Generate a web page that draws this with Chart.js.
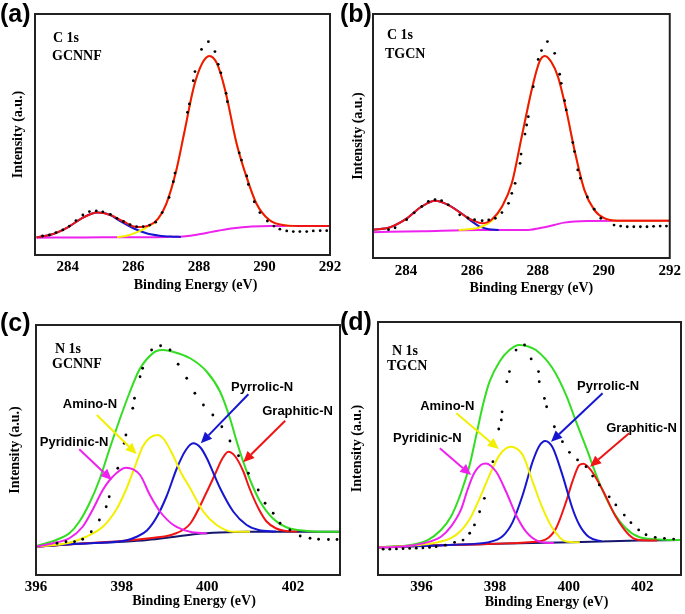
<!DOCTYPE html>
<html>
<head>
<meta charset="utf-8">
<title>XPS C 1s / N 1s</title>
<script src="https://cdn.jsdelivr.net/npm/chart.js@4.4.0/dist/chart.umd.min.js"></script>
<style>
  body { margin: 0; background: #fff; }
  #wrap { position: relative; width: 685px; height: 614px; overflow: hidden; }
  canvas { position: absolute; }
</style>
</head>
<body>
<div id="wrap">
  <canvas id="ca" style="left:0;top:0" width="345" height="300"></canvas>
  <canvas id="cb" style="left:340px;top:0" width="345" height="300"></canvas>
  <canvas id="cc" style="left:0;top:300px" width="345" height="314"></canvas>
  <canvas id="cd" style="left:340px;top:300px" width="345" height="314"></canvas>
</div>
<script>
// ---- tick labels ----
var cTicks = [284, 286, 288, 290, 292];
var nTicks = [396, 398, 400, 402];

// ---- (a) C 1s GCNNF ----
var aBgE = [283.05, 284.5, 286, 287, 287.6, 288.0, 288.4, 288.8, 289.2, 289.6, 290.2, 291, 292];
var aBgI = [7.2, 7.3, 7.4, 7.5, 7.8, 8.6, 9.6, 10.6, 11.3, 11.8, 12.0, 12.0, 12.0];
var aC1E = [283.05, 283.5, 284.0, 284.4, 284.9, 285.3, 285.6, 286.0, 286.4, 286.8, 287.2, 287.45];
var aC1I = [7.4, 8.5, 11.5, 15.0, 17.6, 16.6, 14.0, 11.1, 9.0, 8.0, 7.6, 7.5];
var aC2E = [285.5, 285.8, 286.1, 286.4, 286.75, 287.0, 287.3, 287.55, 287.85, 288.1, 288.32, 288.55, 288.8, 289.15, 289.45, 289.75, 290.15, 290.6, 291.2, 292];
var aC2I = [7.4, 8.0, 9.4, 11.4, 14.8, 21.0, 34.5, 50.5, 70.0, 79.5, 82.6, 79.5, 68.5, 46.3, 32.5, 21.5, 14.5, 12.4, 12.0, 12.0];
var aFitE = [283.05, 283.5, 284.0, 284.4, 284.9, 285.3, 285.7, 286.1, 286.5, 286.75, 287.0, 287.3, 287.55, 287.85, 288.1, 288.32, 288.55, 288.8, 289.15, 289.45, 289.75, 290.15, 290.6, 291.2, 292];
var aFitI = [7.4, 8.5, 11.5, 15.0, 17.6, 16.6, 13.9, 11.6, 12.4, 15.0, 21.0, 34.5, 50.5, 70.0, 79.5, 82.6, 79.5, 68.5, 46.3, 32.5, 21.5, 14.5, 12.4, 12.0, 12.0];
var aDotE = [283.23, 283.44, 283.64, 283.85, 284.05, 284.25, 284.46, 284.66, 284.87, 285.07, 285.3, 285.5, 285.7, 285.9, 286.1, 286.3, 286.5, 286.68, 286.88, 287.09, 287.22, 287.27, 287.65, 287.71, 287.83, 287.88, 288.08, 288.29, 288.49, 288.59, 288.67, 288.83, 288.87, 289.23, 289.3, 289.46, 289.51, 289.69, 289.86, 290.09, 290.29, 290.47, 290.68, 290.88, 291.08, 291.29, 291.49, 291.7, 291.9];
var aDotI = [7.9, 8.3, 9.3, 10.4, 12.0, 14.3, 16.6, 18.0, 18.3, 17.9, 16.8, 15.2, 13.9, 12.6, 11.8, 11.8, 12.4, 13.6, 17.6, 23.9, 30.4, 34.0, 59.2, 62.7, 72.3, 76.1, 85.3, 88.5, 84.4, 79.1, 75.6, 67.1, 63.6, 42.4, 39.4, 32.8, 29.3, 22.1, 17.6, 14.1, 12.0, 10.7, 10.0, 9.7, 9.7, 9.7, 10.0, 10.1, 10.1];

// ---- (b) C 1s TGCN ----
var bBgE = [283.0, 284.5, 286.2, 287.7, 288.2, 288.8, 289.5, 290.5, 292];
var bBgI = [10.6, 11.0, 11.5, 11.5, 12.6, 14.5, 15.2, 15.3, 15.3];
var bC1E = [283.0, 283.5, 283.97, 284.48, 284.88, 285.28, 285.78, 286.0, 286.21, 286.51, 286.81];
var bC1I = [11.6, 12.5, 15.7, 21.1, 23.5, 21.8, 17.3, 15.0, 13.1, 11.8, 11.5];
var bC2E = [285.6, 285.9, 286.18, 286.48, 286.68, 286.91, 287.21, 287.51, 287.86, 288.05, 288.21, 288.4, 288.61, 288.86, 289.11, 289.41, 289.71, 290.01, 290.41, 291, 292];
var bC2I = [11.5, 11.8, 12.3, 14.1, 16.2, 21.0, 30.6, 49.7, 71.6, 80.5, 82.8, 80.5, 74.3, 60.7, 44.3, 27.9, 19.7, 16.3, 15.3, 15.3, 15.3];
var bFitE = [283.0, 283.5, 283.97, 284.48, 284.88, 285.28, 285.78, 286.05, 286.31, 286.61, 286.91, 287.21, 287.51, 287.86, 288.05, 288.21, 288.4, 288.61, 288.86, 289.11, 289.41, 289.71, 290.01, 290.41, 291, 292];
var bFitI = [11.6, 12.5, 15.7, 21.1, 23.5, 21.8, 17.3, 15.3, 14.2, 15.9, 21.0, 30.6, 49.7, 71.6, 80.5, 82.8, 80.5, 74.3, 60.7, 44.3, 27.9, 19.7, 16.3, 15.3, 15.3, 15.3];
var bDotE = [283.47, 283.67, 284.02, 284.25, 284.48, 284.68, 284.88, 285.08, 285.28, 285.63, 285.88, 286.08, 286.31, 286.51, 286.71, 286.91, 287.11, 287.21, 287.31, 287.46, 287.49, 287.61, 287.66, 287.71, 287.86, 288.01, 288.11, 288.29, 288.51, 288.66, 288.71, 288.81, 288.86, 289.06, 289.11, 289.21, 289.29, 289.5, 289.71, 289.91, 290.31, 290.51, 290.71, 290.91, 291.11, 291.31, 291.51, 291.71, 291.9];
var bDotI = [11.6, 12.4, 15.7, 18.5, 21.1, 23.2, 23.9, 23.5, 21.8, 17.7, 16.4, 15.7, 15.3, 15.6, 16.3, 18.6, 22.4, 26.5, 30.6, 38.8, 42.6, 50.8, 54.5, 57.9, 70.2, 81.4, 85.0, 88.7, 83.9, 75.3, 71.6, 64.5, 60.7, 47.3, 43.6, 36.1, 32.7, 25.0, 20.0, 16.3, 13.5, 13.1, 12.8, 12.8, 12.8, 12.8, 13.0, 13.1, 13.1];

// ---- (c) N 1s GCNNF ----
var cBgE = [396.0, 397.0, 398.0, 398.6, 399.2, 399.75, 400.3, 400.9, 403.1];
var cBgI = [11.3, 12.5, 13.3, 14.0, 15.2, 16.4, 17.0, 17.3, 17.3];
var cSumE = [396.0, 396.47, 396.78, 397.01, 397.25, 397.48, 397.71, 397.95, 398.18, 398.41, 398.57, 398.8, 398.97, 399.2, 399.6, 399.99, 400.3, 400.53, 400.69, 400.84, 401.0, 401.23, 401.54, 401.86, 402.33, 402.64, 403.1];
var cSumI = [11.5, 14.0, 16.7, 21.3, 28.7, 38.0, 50.0, 62.0, 72.7, 82.0, 86.0, 89.5, 90.0, 89.3, 86.7, 81.3, 73.3, 62.7, 53.3, 45.3, 38.0, 29.5, 22.5, 19.0, 17.6, 17.3, 17.3];
var cPyrdE = [396.0, 396.39, 396.78, 397.09, 397.32, 397.56, 397.79, 398.1, 398.43, 398.66, 398.9, 399.21, 399.6, 399.99];
var cPyrdI = [11.3, 12.7, 14.7, 19.3, 26.0, 34.0, 39.3, 42.9, 40.0, 32.0, 25.3, 20.0, 17.3, 16.6];
var cAmE = [396.0, 396.78, 397.17, 397.56, 397.87, 398.1, 398.34, 398.49, 398.65, 398.84, 399.0, 399.21, 399.4, 399.6, 399.91, 400.22, 400.61, 401.0];
var cAmI = [11.3, 12.9, 15.3, 19.3, 26.0, 34.0, 44.7, 51.3, 54.8, 56.0, 54.0, 47.5, 40.5, 34.7, 25.3, 20.0, 17.3, 17.3];
var cPyrlE = [396.0, 397.0, 397.6, 398.1, 398.35, 398.59, 398.82, 399.05, 399.29, 399.5, 399.67, 399.85, 399.99, 400.15, 400.3, 400.61, 400.92, 401.2, 401.6];
var cPyrlI = [11.3, 12.5, 13.0, 13.8, 15.3, 17.8, 23.2, 31.5, 42.7, 50.0, 52.7, 50.8, 46.7, 40.5, 34.7, 25.3, 20.0, 18.0, 17.4];
var cGrE = [396.0, 397.0, 398.0, 398.8, 399.21, 399.6, 399.99, 400.2, 400.35, 400.49, 400.65, 400.84, 400.99, 401.2, 401.38, 401.6, 401.8, 402.1];
var cGrI = [11.3, 12.5, 13.6, 15.0, 16.3, 20.5, 33.3, 41.0, 46.5, 49.3, 47.5, 41.5, 34.5, 26.5, 21.5, 18.7, 17.7, 17.3];
var cDotE = [396.49, 396.7, 396.9, 397.09, 397.29, 397.48, 397.64, 397.71, 397.91, 398.06, 398.1, 398.26, 398.3, 398.43, 398.49, 398.7, 398.91, 399.13, 399.32, 399.52, 399.71, 399.91, 400.13, 400.34, 400.53, 400.73, 400.96, 401.19, 401.35, 401.54, 401.7, 401.93, 402.17, 402.4, 402.6, 402.83, 403.03];
var cDotI = [12.7, 13.3, 13.3, 14.3, 17.3, 22.0, 27.3, 31.3, 42.7, 52.7, 56.0, 66.7, 70.7, 79.3, 82.7, 90.0, 91.7, 90.0, 84.3, 78.7, 72.7, 68.0, 64.0, 59.3, 53.6, 47.7, 40.7, 34.0, 28.7, 24.7, 20.7, 18.0, 15.6, 14.7, 14.3, 14.2, 14.2];

// ---- (d) N 1s TGCN ----
var dBgE = [394.82, 396.5, 399.0, 401.9, 403.05];
var dBgI = [11.0, 11.8, 12.6, 13.6, 13.8];
var dSumE = [394.82, 395.72, 396.17, 396.53, 396.8, 397.07, 397.31, 397.49, 397.67, 397.85, 398.12, 398.39, 398.66, 398.9, 399.11, 399.56, 399.93, 400.2, 400.47, 400.83, 401.19, 401.55, 401.91, 402.36, 403.05];
var dSumI = [10.9, 11.9, 13.8, 17.8, 23.0, 32.3, 43.5, 55.3, 67.2, 76.4, 84.3, 88.9, 90.9, 90.3, 88.9, 81.7, 71.1, 60.6, 50.5, 36.5, 25.5, 18.5, 15.0, 14.1, 13.8];
var dPyrdE = [394.82, 395.5, 396.04, 396.53, 396.8, 397.07, 397.25, 397.43, 397.61, 397.75, 398.03, 398.3, 398.57, 398.84, 399.2, 399.6];
var dPyrdI = [10.9, 11.3, 12.5, 15.1, 19.1, 25.7, 33.6, 40.2, 43.5, 44.1, 40.8, 32.9, 23.7, 17.1, 13.2, 12.6];
var dAmE = [394.82, 395.6, 396.1, 396.8, 397.07, 397.31, 397.58, 397.85, 398.12, 398.42, 398.75, 399.02, 399.29, 399.56, 399.93, 400.3];
var dAmI = [10.9, 11.5, 12.1, 14.6, 17.5, 22.0, 30.3, 39.5, 47.4, 50.7, 47.4, 36.9, 26.4, 18.5, 13.2, 12.9];
var dPyrlE = [394.82, 396.5, 397.5, 397.8, 398.21, 398.48, 398.75, 399.02, 399.2, 399.36, 399.56, 399.83, 400.1, 400.29, 400.55, 400.9];
var dPyrlI = [10.9, 11.7, 12.4, 12.9, 15.4, 21.0, 31.6, 44.8, 51.0, 53.0, 50.5, 39.5, 26.4, 19.8, 15.0, 13.3];
var dGrE = [394.82, 396.5, 397.5, 398.3, 398.9, 399.38, 399.66, 399.93, 400.1, 400.29, 400.4, 400.6, 400.92, 401.28, 401.64, 401.91, 402.4];
var dGrI = [10.9, 11.8, 12.1, 12.5, 12.9, 14.1, 18.6, 29.0, 36.9, 43.5, 44.0, 41.5, 33.6, 23.0, 15.8, 13.8, 13.6];
var dDotE = [394.96, 395.14, 395.32, 395.5, 395.68, 395.86, 396.04, 396.22, 396.4, 396.65, 396.9, 397.13, 397.31, 397.44, 397.58, 397.71, 397.94, 398.1, 398.17, 398.19, 398.32, 398.39, 398.57, 398.8, 398.98, 399.18, 399.2, 399.34, 399.4, 399.61, 399.83, 400.02, 400.24, 400.47, 400.65, 400.83, 401.1, 401.28, 401.51, 401.69, 401.9, 402.1, 402.35, 402.6, 402.85];
var dDotI = [10.2, 10.2, 10.3, 10.4, 10.5, 10.6, 10.7, 10.9, 11.2, 11.8, 12.9, 13.8, 16.5, 19.8, 25.0, 30.3, 44.8, 57.7, 61.3, 64.5, 76.4, 80.4, 88.9, 90.9, 85.4, 80.4, 76.4, 69.8, 66.5, 58.6, 52.7, 48.5, 45.5, 42.8, 39.1, 35.6, 30.9, 27.7, 23.7, 20.7, 17.8, 15.9, 14.9, 14.5, 14.2];

var RED = '#f01414', BLUE = '#1616d0', YEL = '#f2f000', MAG = '#ee22ee', GRN = '#33dd22', NAVY = '#16166e';
var SERIF = '"Liberation Serif", "Times New Roman", serif';
var SANS = '"Liberation Sans", Arial, sans-serif';

function pts(E, I) {
  return E.map(function (e, i) { return { x: e, y: I[i] }; });
}
function line(E, I, color, order) {
  return { data: pts(E, I), showLine: true, borderColor: color, borderWidth: 2,
           pointRadius: 0, cubicInterpolationMode: 'monotone', fill: false, order: order };
}
function dots(E, I) {
  return { data: pts(E, I), showLine: false, pointRadius: 1.4, pointBackgroundColor: '#000',
           pointBorderWidth: 0, order: 0 };
}

var decor = {
  id: 'decor',
  afterDatasetsDraw: function (chart, args, o) {
    var ctx = chart.ctx, a = chart.chartArea, sx = chart.scales.x, sy = chart.scales.y;
    ctx.save();
    ctx.strokeStyle = '#222';
    ctx.lineWidth = 2;
    ctx.strokeRect(a.left, a.top, a.right - a.left, a.bottom - a.top);

    ctx.fillStyle = '#000';
    ctx.textAlign = 'left';
    ctx.textBaseline = 'alphabetic';
    ctx.font = 'bold 25px ' + SANS;
    ctx.fillText(o.letter[0], o.letter[1], o.letter[2]);

    ctx.font = 'bold 14px ' + SERIF;
    o.notes.forEach(function (n) { ctx.fillText(n[0], n[1], n[2]); });

    // x title sits a little right of the plot centre in the original
    ctx.textAlign = 'center';
    ctx.textBaseline = 'middle';
    ctx.fillText('Binding Energy (eV)', (a.left + a.right) / 2 + o.titleDx, o.titleY);

    (o.arrows || []).forEach(function (ar) {
      var x0 = sx.getPixelForValue(ar.from[0]), y0 = sy.getPixelForValue(ar.from[1]);
      var x1 = sx.getPixelForValue(ar.to[0]), y1 = sy.getPixelForValue(ar.to[1]);
      var ang = Math.atan2(y1 - y0, x1 - x0), hl = 11, hw = 5;
      var bx = x1 - hl * Math.cos(ang), by = y1 - hl * Math.sin(ang);
      ctx.strokeStyle = ar.color;
      ctx.fillStyle = ar.color;
      ctx.lineWidth = 2;
      ctx.beginPath();
      ctx.moveTo(x0, y0);
      ctx.lineTo(bx, by);
      ctx.stroke();
      ctx.beginPath();
      ctx.moveTo(x1, y1);
      ctx.lineTo(bx + hw * Math.sin(ang), by - hw * Math.cos(ang));
      ctx.lineTo(bx - hw * Math.sin(ang), by + hw * Math.cos(ang));
      ctx.closePath();
      ctx.fill();

      ctx.fillStyle = '#000';
      ctx.font = 'bold 13px ' + SANS;
      ctx.fillText(ar.text, sx.getPixelForValue(ar.label[0]), sy.getPixelForValue(ar.label[1]));
    });
    ctx.restore();
  }
};

function panel(id, p) {
  new Chart(document.getElementById(id), {
    type: 'scatter',
    data: { datasets: p.sets },
    options: {
      responsive: false,
      animation: false,
      layout: { padding: { left: 0, top: p.top, right: p.right, bottom: 0 } },
      plugins: { legend: { display: false }, tooltip: { enabled: false }, decor: p.decor },
      scales: {
        x: {
          type: 'linear', min: p.min, max: p.max,
          grid: { display: false, drawTicks: false }, border: { display: false },
          afterBuildTicks: function (s) { s.ticks = p.ticks.map(function (v) { return { value: v }; }); },
          afterFit: function (s) { s.height = p.xh; },
          ticks: { color: '#000', padding: p.tickPad, maxRotation: 0,
                   font: { family: SERIF, size: 15, weight: 'bold' } },
          title: { display: false }
        },
        y: {
          min: 0, max: 100,
          grid: { display: false, drawTicks: false }, border: { display: false },
          ticks: { display: false },
          afterFit: function (s) { s.width = p.yw; },
          title: { display: true, text: 'Intensity (a.u.)', color: '#000',
                   font: { family: SERIF, size: 14, weight: 'bold' },
                   padding: { top: p.yTitlePad, bottom: 0 } }
        }
      }
    },
    plugins: [decor]
  });
}

panel('ca', {
  min: 283, max: 292, ticks: cTicks, top: 14, right: 15, yw: 35, xh: 45,
  tickPad: 3, yTitlePad: 10,
  sets: [
    line(aBgE, aBgI, MAG, 4), line(aC1E, aC1I, BLUE, 3), line(aC2E, aC2I, YEL, 2),
    line(aFitE, aFitI, RED, 1), dots(aDotE, aDotI)
  ],
  decor: { letter: ['(a)', 0, 22], notes: [['C 1s', 53, 42], ['GCNNF', 52, 60]], titleDx: 13, titleY: 285 }
});

panel('cb', {
  min: 283, max: 292, ticks: cTicks, top: 14, right: 12, yw: 33, xh: 42,
  tickPad: 4, yTitlePad: 10,
  sets: [
    line(bBgE, bBgI, MAG, 4), line(bC1E, bC1I, BLUE, 3), line(bC2E, bC2I, YEL, 2),
    line(bFitE, bFitI, RED, 1), dots(bDotE, bDotI)
  ],
  decor: { letter: ['(b)', 0, 22], notes: [['C 1s', 47, 39], ['TGCN', 45, 58]], titleDx: 10, titleY: 288 }
});

panel('cc', {
  min: 396, max: 403.1, ticks: nTicks, top: 25, right: 5, yw: 36, xh: 39,
  tickPad: 3, yTitlePad: 7,
  sets: [
    line(cBgE, cBgI, NAVY, 7), line(cSumE, cSumI, GRN, 6), line(cGrE, cGrI, RED, 5),
    line(cPyrlE, cPyrlI, BLUE, 4), line(cAmE, cAmI, YEL, 3), line(cPyrdE, cPyrdI, MAG, 2),
    dots(cDotE, cDotI)
  ],
  decor: {
    letter: ['(c)', 0, 31], notes: [['N 1s', 55, 53], ['GCNNF', 52, 68]], titleDx: 6, titleY: 301,
    arrows: [
      { text: 'Pyridinic-N', label: [396.89, 53.2], from: [397.01, 50.3], to: [397.77, 38.0], color: MAG },
      { text: 'Amino-N', label: [397.26, 68.4], from: [397.42, 64.0], to: [398.35, 48.4], color: YEL },
      { text: 'Pyrrolic-N', label: [401.28, 75.2], from: [400.96, 72.3], to: [399.85, 52.7], color: BLUE },
      { text: 'Graphitic-N', label: [402.11, 65.3], from: [401.82, 61.7], to: [400.84, 45.1], color: RED }
    ]
  }
});

panel('cd', {
  min: 394.82, max: 403.05, ticks: nTicks, top: 22, right: 3, yw: 38, xh: 39,
  tickPad: 3, yTitlePad: 9,
  sets: [
    line(dBgE, dBgI, NAVY, 7), line(dSumE, dSumI, GRN, 6), line(dGrE, dGrI, RED, 5),
    line(dPyrlE, dPyrlI, BLUE, 4), line(dAmE, dAmI, YEL, 3), line(dPyrdE, dPyrdI, MAG, 2),
    dots(dDotE, dDotI)
  ],
  decor: {
    letter: ['(d)', 0, 30], notes: [['N 1s', 52, 55], ['TGCN', 47, 70]], titleDx: 17, titleY: 302,
    arrows: [
      { text: 'Pyridinic-N', label: [396.16, 54.0], from: [396.5, 50.1], to: [397.35, 39.5], color: MAG },
      { text: 'Amino-N', label: [396.7, 66.5], from: [396.95, 63.9], to: [398.1, 49.8], color: YEL },
      { text: 'Pyrrolic-N', label: [401.07, 74.7], from: [400.92, 71.8], to: [399.52, 52.7], color: BLUE },
      { text: 'Graphitic-N', label: [401.98, 58.0], from: [401.64, 56.0], to: [400.58, 42.8], color: RED }
    ]
  }
});
</script>
</body>
</html>
